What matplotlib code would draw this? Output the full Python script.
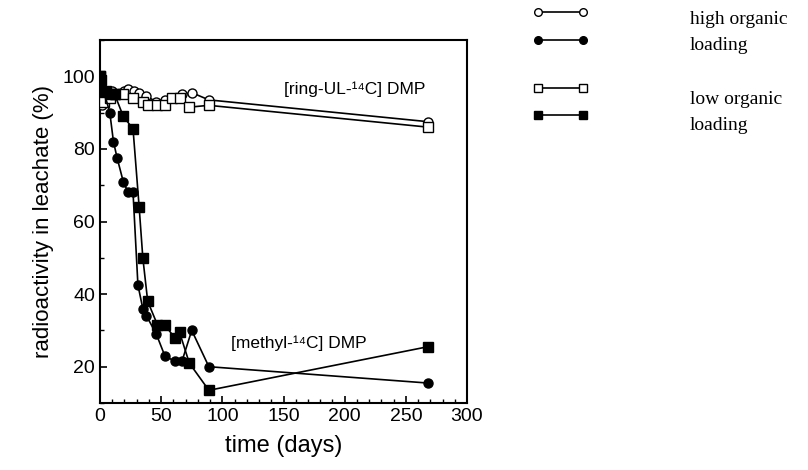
import matplotlib
matplotlib.use('Agg')
import matplotlib.pyplot as plt
from matplotlib.lines import Line2D
from matplotlib.ticker import MultipleLocator

plt.rcParams['font.family'] = ['Liberation Sans', 'DejaVu Sans']

# [ring-UL-14C] DMP, high organic loading (open circles)
ring_high_t = [0, 2, 5, 10, 15, 20, 23, 28, 32, 38, 46, 53, 61, 67, 75, 89, 268]
ring_high_v = [100, 92, 95, 96, 95, 96, 96.5, 96, 95.5, 94.5, 93, 93.5, 94, 95, 95.5, 93.5, 87.5]

# [ring-UL-14C] DMP, low organic loading (open squares)
ring_low_t = [0, 3, 8, 12, 19, 27, 35, 39, 47, 53, 59, 65, 73, 89, 268]
ring_low_v = [100, 93, 94, 95, 95, 94, 93, 92, 92, 92, 94, 94, 91.5, 92, 86]

# [methyl-14C] DMP, high organic loading (filled circles)
methyl_high_t = [0, 3, 8, 11, 14, 19, 23, 27, 31, 35, 38, 46, 53, 61, 67, 75, 89, 268]
methyl_high_v = [100, 96, 90, 82, 77.5, 71, 68, 68, 42.5, 36, 34, 29, 23, 21.5, 21.5, 30, 20, 15.5]

# [methyl-14C] DMP, low organic loading (filled squares)
methyl_low_t = [0, 1, 5, 8, 12, 19, 27, 32, 35, 39, 47, 53, 61, 65, 73, 89, 268]
methyl_low_v = [100, 99, 96, 95, 95, 89, 85.5, 64, 50, 38, 31.5, 31.5, 28, 29.5, 21, 13.5, 25.5]

fig = plt.figure(figsize=(8.08, 4.70), dpi=100)
ax = fig.add_axes([100 / 808, 67 / 470, 367 / 808, 363 / 470])

ms = 6.5
ax.plot(ring_high_t, ring_high_v, '-o', color='black', mfc='white', mec='black', ms=ms, lw=1.2, zorder=3)
ax.plot(ring_low_t, ring_low_v, '-s', color='black', mfc='white', mec='black', ms=ms, lw=1.2, zorder=3)
ax.plot(methyl_high_t, methyl_high_v, '-o', color='black', mfc='black', ms=ms, lw=1.2, zorder=4)
ax.plot(methyl_low_t, methyl_low_v, '-s', color='black', mfc='black', ms=ms, lw=1.2, zorder=4)

ax.set_xlim(0, 300)
ax.set_ylim(10, 110)
ax.xaxis.set_major_locator(MultipleLocator(50))
ax.xaxis.set_minor_locator(MultipleLocator(10))
ax.yaxis.set_minor_locator(MultipleLocator(10))
ax.set_yticks([20, 40, 60, 80, 100])
ax.tick_params(which='both', direction='in', top=False, right=False, labelsize=14)
ax.tick_params(which='major', length=5, width=1.2)
ax.tick_params(which='minor', length=3, width=1)
for s in ax.spines.values():
    s.set_linewidth(1.5)

ax.set_xlabel('time (days)', fontsize=17, labelpad=7)
ax.set_ylabel('radioactivity in leachate (%)', fontsize=16, labelpad=6)

ax.text(150, 96.5, '[ring-UL-¹⁴C] DMP', fontsize=12.5, va='center')
ax.text(107, 26.5, '[methyl-¹⁴C] DMP', fontsize=12.5, va='center')

# legend drawn outside the axes
rows = [(12, 'o', 'white'), (40, 'o', 'black'), (88, 's', 'white'), (115, 's', 'black')]
for y, m, fc in rows:
    fig.add_artist(Line2D([538 / 808, 583 / 808], [1 - y / 470, 1 - y / 470], transform=fig.transFigure,
                          color='black', lw=1.2, marker=m, mfc=fc, mec='black', ms=5.5))

serif = ['Liberation Serif', 'DejaVu Serif']
fig.text(690 / 808, 1 - 20 / 470, 'high organic', family=serif, fontsize=14, va='center')
fig.text(690 / 808, 1 - 46 / 470, 'loading', family=serif, fontsize=14, va='center')
fig.text(690 / 808, 1 - 100 / 470, 'low organic', family=serif, fontsize=14, va='center')
fig.text(690 / 808, 1 - 126 / 470, 'loading', family=serif, fontsize=14, va='center')

fig.savefig('out.png', dpi=100)
